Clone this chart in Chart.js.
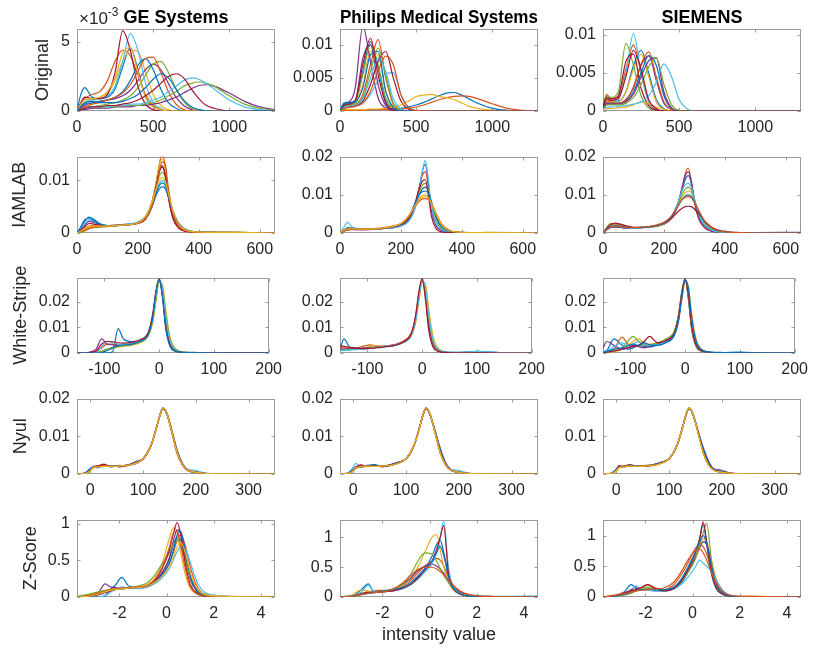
<!DOCTYPE html>
<html>
<head>
<meta charset="utf-8">
<title>Intensity histograms per vendor and normalization</title>
<script src="https://cdn.jsdelivr.net/npm/chart.js@4.4.1/dist/chart.umd.min.js"></script>
<style>
  html, body { margin: 0; padding: 0; background: #fff; overflow: hidden; }
  #figure { position: relative; width: 815px; height: 648px; overflow: hidden; }
  #figure canvas { position: absolute; }
</style>
</head>
<body>
<div id="figure"></div>
<script>
// ---------- data (densities of rows 1-4 are in units of 1e-3) ----------
const vendors = ['GE Systems', 'Philips Medical Systems', 'SIEMENS'];
const methods = ['Original', 'IAMLAB', 'White-Stripe', 'Nyul', 'Z-Score'];

const xOriginal = [0,25,50,100,150,200,250,300,350,400,450,500,550,600,650,700,750,800,850,900,1000,1100,1200,1300];
const xIamlab = [0,10,25,40,55,75,100,150,200,225,245,260,270,280,290,300,315,335,360,400,450,500,650];
const xWhiteStripe = [-150,-143,-130,-115,-105,-95,-85,-75,-65,-50,-35,-20,-12,-6,0,6,12,20,30,45,70,100,150,200];
const xNyul = [-25,-10,0,5,15,25,40,55,70,85,100,115,125,133,138,145,155,165,175,185,200,215,250,350];
const xZScore = [-3.8,-3.3,-2.9,-2.6,-2.4,-2.2,-1.9,-1.6,-1.2,-0.8,-0.5,-0.2,0.1,0.3,0.45,0.6,0.8,1.0,1.3,1.7,2.5,4.6];

const geOriginal = [
  [0,1.2,1.7,1.0,0.9,1.0,1.6,3.2,4.6,3.0,1.0,0.3,0.1,0,0,0,0,0,0,0,0,0,0,0],
  [0,0.5,0.9,1.2,1.4,2.2,3.6,4.4,4.0,2.6,1.2,0.4,0.1,0,0,0,0,0,0,0,0,0,0,0],
  [0,0.3,0.6,0.8,1.0,1.3,2.2,3.6,4.4,4.3,2.8,1.2,0.4,0.1,0,0,0,0,0,0,0,0,0,0],
  [0,0.2,0.4,0.6,0.7,0.8,0.9,1.1,1.5,2.2,3.0,3.4,3.0,2.0,1.0,0.4,0.1,0,0,0,0,0,0,0],
  [0,0.1,0.2,0.3,0.4,0.5,0.6,0.8,1.1,1.7,2.6,3.4,3.6,2.8,1.6,0.7,0.2,0.1,0,0,0,0,0,0],
  [0,0.4,0.8,0.8,0.9,1.1,1.8,3.6,5.6,4.4,2.0,0.6,0.2,0,0,0,0,0,0,0,0,0,0,0],
  [0,0.6,1.0,0.9,0.9,1.2,2.8,5.8,4.4,1.8,0.5,0.1,0,0,0,0,0,0,0,0,0,0,0,0],
  [0,0.3,0.5,0.6,0.7,0.8,1.0,1.4,2.2,3.3,3.8,3.0,1.6,0.6,0.2,0,0,0,0,0,0,0,0,0],
  [0,0.2,0.3,0.5,0.6,0.8,1.0,1.3,1.9,2.9,3.8,3.9,2.8,1.4,0.5,0.1,0,0,0,0,0,0,0,0],
  [0,0.5,0.8,0.9,1.0,1.4,2.4,4.2,4.6,2.8,1.0,0.3,0.1,0,0,0,0,0,0,0,0,0,0,0],
  [0,0.1,0.1,0.2,0.2,0.2,0.3,0.3,0.3,0.4,0.4,0.5,0.6,0.8,1.0,1.3,1.6,1.85,1.9,1.8,1.3,0.7,0.3,0.1],
  [0,0.1,0.2,0.3,0.3,0.3,0.3,0.4,0.4,0.4,0.5,0.6,0.8,1.1,1.4,1.8,2.0,2.1,2.0,1.8,1.1,0.5,0.2,0.05],
  [0,0.1,0.2,0.3,0.3,0.3,0.4,0.4,0.5,0.5,0.6,0.8,1.0,1.4,1.8,2.2,2.4,2.3,2.0,1.6,0.8,0.3,0.1,0],
  [0,0.1,0.2,0.3,0.3,0.4,0.4,0.5,0.6,0.8,1.1,1.5,2.0,2.5,2.7,2.4,1.6,0.9,0.4,0.2,0,0,0,0],
  [0,0.3,0.6,0.7,0.6,0.6,0.6,0.7,0.9,1.2,1.7,2.3,2.7,2.4,1.6,0.8,0.3,0.1,0,0,0,0,0,0]
];
const philipsOriginal = [
  [0,1.2,1.3,1.5,6.0,10.5,6.5,1.5,0.3,0,0,0,0,0,0,0,0,0,0,0,0,0,0,0],
  [0,0.6,0.8,1.0,2.5,7.0,10.8,5.0,1.0,0.2,0,0,0,0,0,0,0,0,0,0,0,0,0,0],
  [0,0.8,1.0,1.2,4.0,9.0,8.5,3.0,0.6,0.1,0,0,0,0,0,0,0,0,0,0,0,0,0,0],
  [0,1.0,1.2,3.5,12.8,7.5,2.0,0.4,0.1,0,0,0,0,0,0,0,0,0,0,0,0,0,0,0],
  [0,0.9,1.1,1.4,5.5,10.0,7.0,2.0,0.4,0,0,0,0,0,0,0,0,0,0,0,0,0,0,0],
  [0,0.5,0.6,0.8,1.2,2.5,4.5,5.6,5.8,2.5,0.6,0.1,0,0,0,0,0,0,0,0,0,0,0,0],
  [0,0.4,0.6,0.8,1.5,4.0,7.5,9.0,5.0,1.5,0.3,0,0,0,0,0,0,0,0,0,0,0,0,0],
  [0,0.2,0.2,0.2,0.2,0.2,0.2,0.3,0.3,0.4,0.6,0.9,1.3,1.8,2.3,2.7,2.8,2.4,1.8,1.2,0.4,0.1,0,0],
  [0,0.1,0.1,0.1,0.1,0.2,0.2,0.2,0.3,0.3,0.4,0.6,0.9,1.3,1.7,2.0,2.2,2.3,2.2,1.9,1.1,0.4,0.1,0],
  [0,0.2,0.2,0.2,0.2,0.3,0.3,0.4,0.6,0.9,1.5,2.2,2.4,2.5,2.2,2.0,1.7,1.2,0.7,0.4,0.1,0,0,0],
  [0,0.9,1.1,1.6,8.0,10.0,4.0,0.8,0.1,0,0,0,0,0,0,0,0,0,0,0,0,0,0,0],
  [0,0.7,0.9,1.1,2.0,6.0,9.5,5.5,1.2,0.2,0,0,0,0,0,0,0,0,0,0,0,0,0,0],
  [0,0.5,0.7,0.9,1.8,5.0,8.0,6.0,1.8,0.3,0,0,0,0,0,0,0,0,0,0,0,0,0,0],
  [0,0.8,1.0,1.5,7.0,11.0,5.5,1.2,0.2,0,0,0,0,0,0,0,0,0,0,0,0,0,0,0],
  [0,1.0,1.2,1.4,3.5,8.5,9.0,3.0,0.5,0,0,0,0,0,0,0,0,0,0,0,0,0,0,0],
  [0,0.3,0.5,0.7,1.2,3.0,6.0,8.3,7.0,2.5,0.5,0.1,0,0,0,0,0,0,0,0,0,0,0,0]
];
const siemensOriginal = [
  [0.5,1.5,1.3,1.3,2.5,6.0,8.0,5.0,1.5,0.3,0,0,0,0,0,0,0,0,0,0,0,0,0,0],
  [0.8,2.2,1.6,1.8,5.5,8.7,5.0,1.2,0.2,0,0,0,0,0,0,0,0,0,0,0,0,0,0,0],
  [0.4,1.5,1.2,1.2,2.5,5.5,7.5,4.5,1.2,0.2,0,0,0,0,0,0,0,0,0,0,0,0,0,0],
  [0.3,1.0,1.0,1.0,1.5,3.0,6.0,7.3,4.0,1.0,0.2,0,0,0,0,0,0,0,0,0,0,0,0,0],
  [1.0,2.0,1.8,2.5,8.9,6.0,2.0,0.4,0.1,0,0,0,0,0,0,0,0,0,0,0,0,0,0,0],
  [0.5,1.2,1.0,1.5,5.0,10.2,5.0,1.2,0.2,0,0,0,0,0,0,0,0,0,0,0,0,0,0,0],
  [0.6,1.8,1.6,2.0,6.5,7.5,3.0,0.7,0.1,0,0,0,0,0,0,0,0,0,0,0,0,0,0,0],
  [0.3,1.0,0.9,1.0,1.3,2.5,5.0,7.3,6.0,2.0,0.3,0,0,0,0,0,0,0,0,0,0,0,0,0],
  [0.3,1.2,1.1,1.0,1.4,3.2,6.2,7.8,4.5,1.2,0.2,0,0,0,0,0,0,0,0,0,0,0,0,0],
  [0.2,0.3,0.3,0.4,0.5,0.8,1.2,1.0,0.5,0.2,0,0,0,0,0,0,0,0,0,0,0,0,0,0],
  [0.3,0.9,0.9,0.9,1.2,2.2,4.5,6.6,7.0,2.5,0.4,0,0,0,0,0,0,0,0,0,0,0,0,0],
  [0.2,0.8,0.8,0.8,1.0,1.8,3.5,5.8,7.0,3.5,0.8,0.1,0,0,0,0,0,0,0,0,0,0,0,0],
  [0.2,0.5,0.5,0.6,0.7,0.9,1.2,2.0,3.8,6.2,4.5,1.5,0.3,0,0,0,0,0,0,0,0,0,0,0],
  [0.5,1.6,1.4,1.6,4.5,8.0,5.5,1.5,0.3,0,0,0,0,0,0,0,0,0,0,0,0,0,0,0]
];

const geIamlab = [
  [0,0.8,2.2,3.0,2.6,1.8,1.4,1.5,1.9,2.8,4.8,7.2,8.3,8.8,8.4,6.8,4.2,1.8,0.6,0.2,0.1,0.1,0],
  [0,0.3,0.9,1.3,1.4,1.4,1.4,1.6,2.0,3.0,5.5,9.5,13.0,15.0,12.5,7.0,2.8,0.9,0.3,0.1,0.1,0.1,0],
  [0,0.2,0.6,1.0,1.2,1.3,1.4,1.6,2.1,3.2,5.8,9.8,12.8,14.0,12.0,7.5,3.2,1.0,0.3,0.1,0.1,0.1,0],
  [0,0.5,1.5,2.2,2.0,1.6,1.4,1.6,2.0,3.0,5.5,9.0,11.8,12.8,11.0,7.0,3.0,1.0,0.3,0.1,0.1,0,0],
  [0,0.1,0.4,0.8,1.0,1.1,1.2,1.5,1.9,3.0,5.6,8.8,10.8,11.5,10.5,7.5,3.8,1.4,0.4,0.1,0.1,0.1,0],
  [0,0.6,1.8,2.5,2.2,1.7,1.4,1.6,2.1,3.1,5.2,7.8,9.4,10.0,9.4,7.2,4.0,1.6,0.5,0.2,0.1,0.1,0],
  [0,0.4,1.2,1.8,1.7,1.5,1.4,1.5,1.8,2.6,5.0,8.8,11.5,12.5,10.8,6.8,2.8,0.9,0.3,0.1,0,0,0],
  [0,0.9,2.5,2.8,2.3,1.7,1.4,1.5,1.9,2.9,5.0,7.6,9.0,9.5,9.0,7.0,4.0,1.6,0.5,0.2,0.1,0,0],
  [0,0.2,0.5,0.9,1.1,1.2,1.3,1.5,1.9,2.7,4.8,8.5,11.8,13.5,13.0,8.5,3.8,1.2,0.4,0.1,0.1,0.1,0],
  [0,0.3,0.8,1.2,1.3,1.3,1.3,1.5,1.9,3.1,5.6,8.4,10.0,10.5,9.8,7.5,4.2,1.6,0.5,0.2,0.1,0.1,0]
];
const philipsIamlab = [
  [0,0.6,1.4,1.3,1.1,1.0,1.0,1.3,2.2,4.0,7.2,10.0,11.5,12.0,11.0,8.0,4.0,1.4,0.4,0.1,0.1,0.1,0],
  [0,0.4,0.9,1.0,1.0,1.0,1.0,1.3,2.0,3.5,7.0,12.0,15.0,16.0,12.5,6.5,2.2,0.7,0.2,0.1,0.1,0,0],
  [0,0.7,1.2,1.2,1.1,1.0,1.0,1.4,2.4,4.3,7.0,9.0,9.8,10.0,9.6,8.0,5.0,2.0,0.6,0.2,0.1,0.1,0],
  [0,0.5,1.0,1.0,0.9,0.9,0.9,1.2,1.9,3.2,6.5,11.5,16.0,18.0,13.0,6.0,2.0,0.6,0.2,0.1,0.1,0,0],
  [0,0.5,1.0,1.0,1.0,1.0,1.0,1.3,2.1,3.8,7.2,10.5,12.5,13.0,11.5,7.5,3.2,1.0,0.3,0.1,0.1,0.2,0],
  [0,1.2,2.8,1.6,1.2,1.0,1.0,1.2,1.8,3.0,6.0,11.0,16.0,19.0,14.0,7.0,2.5,0.8,0.3,0.1,0.1,0.1,0],
  [0,0.4,0.8,0.9,0.9,0.9,1.0,1.3,2.2,3.8,7.5,11.5,13.5,14.0,10.0,4.5,1.2,0.3,0.1,0.1,0,0,0],
  [0,0.6,1.2,1.2,1.1,1.0,1.0,1.4,2.3,4.3,7.5,10.0,10.8,11.0,10.3,8.2,4.6,1.6,0.5,0.2,0.1,0.1,0],
  [0,0.5,1.0,1.0,1.0,1.0,1.1,1.5,2.5,4.2,6.8,8.3,8.9,9.0,8.8,7.8,5.2,2.2,0.7,0.2,0.1,0,0],
  [0,0.6,1.1,1.1,1.0,1.0,1.0,1.4,2.5,4.5,7.0,8.8,9.3,9.5,9.2,7.8,5.0,2.0,0.6,0.2,0.1,0.1,0]
];
const siemensIamlab = [
  [0,0.8,1.5,1.6,1.5,1.3,1.3,1.6,2.5,4.2,7.5,11.5,14.0,15.0,13.0,9.0,4.5,1.8,0.6,0.2,0.1,0,0],
  [0,1.0,2.0,2.4,2.2,1.8,1.4,1.5,2.3,3.8,7.0,12.0,15.5,17.0,13.5,8.0,3.5,1.2,0.4,0.1,0.1,0,0],
  [0,0.9,1.8,2.0,1.8,1.5,1.4,1.6,2.6,4.3,7.2,9.5,10.5,11.0,10.5,8.5,5.5,2.6,1.0,0.3,0.1,0.1,0],
  [0,0.7,1.4,1.6,1.5,1.3,1.3,1.5,2.4,4.0,7.5,12.0,15.0,16.0,13.5,8.5,3.8,1.4,0.4,0.1,0.1,0.1,0.2],
  [0,1.2,2.5,2.3,1.9,1.5,1.3,1.5,2.4,4.2,7.3,10.2,11.5,12.0,11.2,8.8,5.2,2.2,0.8,0.2,0.1,0,0],
  [0,0.9,1.8,1.9,1.7,1.4,1.3,1.6,2.6,4.4,7.8,11.2,12.6,13.0,12.0,8.8,4.8,2.0,0.7,0.2,0.1,0.1,0],
  [0,1.0,2.2,2.6,2.4,1.9,1.5,1.6,2.6,3.8,5.5,6.5,6.9,7.0,6.9,6.3,5.0,3.0,1.4,0.4,0.1,0,0],
  [0,0.9,1.7,1.9,1.8,1.5,1.4,1.6,2.6,4.2,6.8,8.8,9.7,10.0,9.6,8.2,5.6,2.8,1.1,0.3,0.1,0,0],
  [0,0.8,1.5,1.8,1.7,1.5,1.4,1.7,2.8,4.5,7.0,8.8,9.3,9.5,9.2,8.0,5.8,3.0,1.2,0.3,0.1,0,0]
];

const geWhiteStripe = [
  [0,0,0,0,0,0,0.5,9.5,5.5,4.5,5.0,7.0,13.0,22.0,28.5,24.0,13.0,4.0,1.0,0.3,0.2,0.1,0,0],
  [0.2,0.2,0.1,0.5,2.0,3.5,3.5,3.3,3.4,3.8,4.8,7.5,13.5,22.5,29.0,24.0,12.0,3.5,0.9,0.3,0.1,0.1,0,0],
  [0,0,0,0.1,0.5,1.2,1.8,2.3,2.6,3.0,4.0,6.5,11.5,20.0,27.5,27.0,17.0,6.0,1.6,0.4,0.1,0.1,0,0],
  [0,0,0.2,1.5,5.5,3.5,3.2,3.0,3.2,3.6,4.6,7.5,14.0,23.0,29.0,23.0,11.0,3.0,0.8,0.2,0.1,0,0,0],
  [0,0,0,0.2,0.8,1.5,2.2,2.6,2.9,3.3,4.2,6.8,12.0,20.5,28.0,26.0,16.0,5.5,1.5,0.4,0.1,0.1,0,0],
  [0,0,0,0.3,2.5,4.5,4.0,3.5,3.4,3.7,4.7,7.2,13.0,22.0,28.5,25.0,14.0,4.5,1.2,0.3,0.2,0.1,0,0],
  [0,0,0.1,0.8,3.5,4.6,4.4,4.0,3.9,4.2,5.2,8.0,15.0,24.0,29.0,22.0,10.5,3.0,0.8,0.2,0.1,0.1,0.1,0],
  [0,0,0,0,0.2,1.0,2.0,2.8,3.1,3.5,4.5,7.2,13.5,23.5,29.0,22.0,9.5,2.5,0.7,0.2,0.1,0,0,0]
];
const philipsWhiteStripe = [
  [1.0,5.5,1.8,1.6,1.7,2.0,2.2,2.4,2.6,3.0,4.2,7.0,13.0,22.0,29.0,24.0,13.0,4.0,1.0,0.3,0.3,0.6,0.1,0],
  [2.0,2.0,1.8,2.2,2.8,3.2,2.8,2.6,2.8,3.3,4.6,7.8,14.0,23.0,29.0,22.5,10.5,3.0,0.8,0.2,0.1,0.1,0,0],
  [1.2,1.2,1.4,1.6,2.0,2.6,3.0,2.7,2.6,3.0,4.0,6.5,11.5,20.0,27.5,27.0,17.5,6.5,1.8,0.4,0.1,0.1,0,0],
  [1.5,1.5,1.6,1.8,2.0,2.2,2.3,2.5,2.8,3.2,4.3,7.2,13.5,22.5,29.0,23.5,12.0,3.5,0.9,0.3,0.1,0.1,0,0],
  [1.0,1.1,1.3,1.5,1.8,2.0,2.2,2.4,2.7,3.1,4.2,7.0,12.8,21.5,28.5,25.0,14.0,4.5,1.2,0.3,0.1,0.1,0,0],
  [0.8,1.0,1.2,1.4,1.6,1.8,2.0,2.2,2.6,3.0,4.0,6.8,12.5,21.5,28.5,25.5,15.0,5.0,1.4,0.4,0.3,0.6,0.1,0],
  [2.8,2.6,2.2,1.8,1.7,1.8,2.0,2.2,2.5,3.0,4.2,7.5,14.5,24.0,29.0,21.0,9.0,2.2,0.6,0.2,0.1,0.1,0,0]
];
const siemensWhiteStripe = [
  [0.5,1.0,5.5,3.0,1.5,2.0,3.0,2.5,2.4,3.2,4.5,7.5,14.0,23.0,29.0,23.0,11.0,3.5,0.9,0.3,0.2,0.4,0,0],
  [0.3,0.5,1.5,6.2,3.5,2.5,2.8,3.5,3.0,3.4,4.8,7.8,14.5,23.5,29.0,22.0,10.0,3.0,0.8,0.2,0.1,0.1,0,0],
  [0.1,0.2,0.5,1.5,3.0,4.5,5.5,4.0,3.5,3.8,5.5,8.0,13.0,21.0,28.0,26.0,15.5,5.5,1.5,0.4,0.1,0.1,0,0],
  [2.0,4.5,3.0,1.5,2.0,3.0,2.5,2.0,2.5,3.5,5.0,8.0,15.0,24.0,29.0,21.0,9.0,2.5,0.7,0.2,0.1,0.1,0,0],
  [0.2,0.3,0.8,2.0,4.5,6.5,4.5,3.0,3.2,4.0,5.5,8.5,15.0,24.0,29.0,21.5,9.5,2.8,0.8,0.2,0.1,0.1,0,0],
  [0.5,0.8,2.5,4.0,3.0,3.5,4.5,3.5,3.0,3.3,4.4,7.0,13.0,22.0,28.5,24.0,12.5,4.0,1.1,0.3,0.2,0.3,0,0],
  [0.2,0.3,0.8,1.5,2.0,2.5,3.0,4.5,6.5,4.0,4.8,7.5,14.0,23.0,29.0,22.5,10.5,3.2,0.9,0.3,0.1,0.2,0,0],
  [0.3,0.6,1.5,2.0,2.8,3.5,3.0,4.0,3.2,3.0,4.0,6.8,12.5,21.5,28.5,25.5,14.0,4.8,1.3,0.4,0.2,0.1,0,0]
];

const geNyul = [
  [0,0.2,1.2,1.8,1.7,2.3,1.9,2.2,2.2,3.2,4.0,7.4,11.9,16.0,17.4,16.0,11.2,6.0,2.6,1.0,0.6,0.2,0.05,0],
  [0,0.1,1.0,1.6,2.0,2.6,2.0,2.0,2.4,2.6,4.1,7.5,12.0,16.0,17.5,16.0,10.8,5.2,2.3,0.9,0.5,0.2,0.05,0],
  [0,0.1,0.8,1.7,1.9,2.0,2.0,2.1,2.3,2.8,4.0,7.5,12.0,16.0,17.5,16.2,11.0,5.5,2.4,1.0,0.5,0.2,0.05,0],
  [0,0.2,0.9,2.0,1.8,2.2,2.2,1.9,2.3,3.0,3.9,7.6,12.1,16.1,17.4,16.1,11.3,6.2,2.8,1.1,0.6,0.2,0.05,0],
  [0,0.1,0.7,1.8,2.1,2.1,1.9,2.3,2.2,2.9,4.0,7.4,11.9,15.9,17.4,16.3,11.5,6.0,2.5,1.0,0.4,0.2,0.05,0],
  [0,0.2,1.5,1.9,1.8,2.0,2.1,2.0,2.4,2.7,4.0,7.5,12.0,16.0,17.5,16.0,11.0,5.8,2.6,1.1,1.0,0.3,0.05,0],
  [0,0.1,0.9,1.8,2.2,2.5,2.0,2.1,2.3,3.1,4.1,7.5,12.0,16.0,17.4,16.1,11.1,5.6,2.4,1.0,0.5,0.2,0.05,0],
  [0,0.3,1.4,1.7,1.9,2.1,2.0,2.2,2.3,3.0,4.0,7.5,12.0,16.0,17.4,16.0,11.0,5.7,2.5,1.0,0.5,0.2,0.05,0],
  [0,0.1,0.9,1.7,1.9,2.2,2.0,2.1,2.3,2.9,4.0,7.5,12.0,16.0,17.5,16.1,11.0,5.4,2.4,0.9,0.5,0.2,0.05,0],
  [0,0.1,0.8,1.6,1.9,2.0,2.0,2.1,2.3,2.8,4.0,7.5,12.0,16.0,17.5,16.1,11.0,5.5,2.4,1.0,0.5,0.2,0.05,0]
];
const philipsNyul = [
  [0,0.2,1.0,1.8,2.0,2.0,2.5,2.0,2.2,3.0,4.0,7.5,12.0,16.0,17.4,16.0,11.5,6.5,2.8,1.1,0.6,0.2,0.05,0],
  [0,0.1,0.9,1.6,1.8,2.3,2.2,2.1,2.4,2.9,4.0,7.5,12.0,16.0,17.5,16.0,11.0,5.6,2.4,1.0,0.5,0.2,0.05,0],
  [0,0.1,0.8,1.5,1.9,2.0,2.1,2.1,2.3,2.8,4.0,7.5,12.0,16.0,17.5,16.1,11.0,5.5,2.4,1.0,0.5,0.2,0.05,0],
  [0,0.2,1.1,1.9,1.9,2.1,2.2,2.0,2.5,3.1,4.0,7.6,12.1,16.1,17.4,16.0,11.4,6.8,3.0,1.2,0.6,0.2,0.05,0],
  [0,0.1,0.8,1.7,2.2,2.0,2.1,2.2,2.3,2.9,4.0,7.4,11.9,15.9,17.4,16.2,11.6,6.4,2.6,1.0,0.5,0.2,0.05,0],
  [0,0.3,1.8,2.8,1.9,2.0,2.0,2.1,2.3,2.8,4.0,7.5,12.0,16.0,17.5,16.0,11.0,5.6,2.5,1.1,1.0,0.3,0.05,0],
  [0,0.1,1.0,1.8,2.4,2.1,2.3,1.9,2.4,3.0,4.1,7.5,12.0,16.0,17.4,16.0,11.2,6.0,2.6,1.0,0.5,0.2,0.05,0],
  [0,0.2,1.2,1.7,1.8,2.2,2.4,2.0,2.3,3.1,4.0,7.5,12.0,16.0,17.4,16.0,11.3,6.2,2.7,1.0,0.5,0.2,0.05,0],
  [0,0.1,0.9,1.6,2.0,2.1,2.0,2.2,2.3,2.9,4.0,7.5,12.0,16.0,17.5,16.1,11.0,5.5,2.4,1.0,0.5,0.2,0.05,0],
  [0,0.1,0.8,1.6,1.9,2.1,2.0,2.1,2.3,2.8,4.0,7.5,12.0,16.0,17.5,16.1,11.0,5.5,2.4,1.0,0.5,0.2,0.05,0]
];
const siemensNyul = [
  [0,0.2,1.1,1.8,2.0,2.2,2.1,2.2,2.4,3.0,4.0,7.5,12.0,16.0,17.4,16.0,11.3,6.4,3.0,1.2,0.6,0.2,0.05,0],
  [0,0.1,0.9,1.7,2.1,2.4,2.1,2.2,2.4,2.9,4.0,7.5,12.0,16.0,17.5,16.0,11.0,5.6,2.4,1.0,0.5,0.2,0.05,0],
  [0,0.1,0.8,1.6,1.9,2.1,2.1,2.1,2.3,2.8,4.0,7.5,12.0,16.0,17.5,16.1,11.0,5.5,2.4,1.0,0.5,0.2,0.05,0],
  [0,0.2,1.0,1.9,2.0,2.3,2.2,2.1,2.5,3.1,4.0,7.6,12.1,16.1,17.4,16.0,11.4,7.0,3.4,1.4,1.0,0.3,0.05,0],
  [0,0.1,0.7,1.7,2.1,2.0,2.1,2.3,2.3,2.9,4.0,7.4,11.9,15.9,17.4,16.2,11.5,6.2,2.6,1.0,0.5,0.2,0.05,0],
  [0,0.2,1.3,2.0,1.9,2.1,2.0,2.1,2.4,2.8,4.0,7.5,12.0,16.0,17.5,16.0,11.1,5.8,2.6,1.1,0.7,0.2,0.05,0],
  [0,0.1,1.1,2.2,2.0,2.4,2.1,2.0,2.4,3.0,4.1,7.5,12.0,16.0,17.4,16.0,11.2,6.2,2.8,1.1,0.6,0.2,0.05,0],
  [0,0.2,1.2,1.8,1.9,2.3,2.1,2.2,2.3,3.1,4.0,7.5,12.0,16.0,17.4,16.0,11.3,6.6,3.1,1.2,0.7,0.2,0.05,0],
  [0,0.1,0.9,1.7,2.0,2.1,2.0,2.2,2.3,2.9,4.0,7.5,12.0,16.0,17.5,16.1,11.0,5.5,2.4,1.0,0.5,0.2,0.05,0],
  [0,0.1,0.8,1.6,1.9,2.1,2.0,2.1,2.3,2.8,4.0,7.5,12.0,16.0,17.5,16.1,11.0,5.5,2.4,1.0,0.5,0.2,0.05,0]
];

const geZScore = [
  [0,0,0,0.02,0.1,0.15,0.27,0.15,0.13,0.14,0.2,0.32,0.5,0.72,0.82,0.78,0.55,0.28,0.09,0.02,0,0],
  [0,0.02,0.05,0.08,0.09,0.1,0.11,0.12,0.13,0.15,0.2,0.3,0.45,0.62,0.78,0.85,0.7,0.42,0.14,0.03,0.01,0],
  [0,0.02,0.05,0.08,0.1,0.11,0.12,0.13,0.14,0.17,0.26,0.45,0.78,0.95,0.88,0.6,0.3,0.12,0.04,0.01,0,0],
  [0,0.02,0.06,0.18,0.14,0.13,0.12,0.12,0.12,0.14,0.2,0.33,0.52,0.78,0.92,0.88,0.55,0.25,0.07,0.01,0,0],
  [0.01,0.04,0.07,0.09,0.1,0.11,0.12,0.13,0.15,0.2,0.3,0.45,0.6,0.72,0.78,0.72,0.5,0.28,0.1,0.02,0.01,0],
  [0,0,0,0.02,0.06,0.1,0.14,0.12,0.12,0.14,0.18,0.26,0.38,0.52,0.62,0.68,0.66,0.48,0.2,0.05,0.01,0],
  [0,0.01,0.03,0.06,0.08,0.1,0.12,0.12,0.13,0.15,0.22,0.38,0.62,0.88,1.02,0.85,0.45,0.18,0.05,0.01,0,0],
  [0,0.01,0.04,0.07,0.09,0.1,0.11,0.12,0.13,0.15,0.2,0.3,0.45,0.65,0.85,0.9,0.62,0.3,0.08,0.01,0,0],
  [0,0.02,0.05,0.08,0.1,0.11,0.12,0.13,0.14,0.16,0.24,0.4,0.66,0.88,0.9,0.7,0.38,0.15,0.04,0.01,0,0],
  [0,0.01,0.04,0.07,0.09,0.1,0.11,0.12,0.13,0.15,0.2,0.28,0.4,0.55,0.68,0.75,0.6,0.35,0.12,0.03,0.01,0]
];
const philipsZScore = [
  [0,0.02,0.12,0.22,0.1,0.08,0.09,0.1,0.14,0.22,0.33,0.48,0.68,0.88,0.95,0.75,0.38,0.15,0.05,0.01,0,0],
  [0,0.02,0.06,0.09,0.1,0.11,0.11,0.12,0.18,0.28,0.4,0.52,0.6,0.65,0.62,0.52,0.34,0.2,0.09,0.03,0.01,0],
  [0,0.03,0.12,0.1,0.08,0.09,0.1,0.12,0.18,0.3,0.5,0.75,1.0,1.05,0.8,0.5,0.25,0.12,0.04,0.01,0,0],
  [0,0.02,0.05,0.07,0.08,0.09,0.1,0.13,0.2,0.32,0.44,0.52,0.55,0.52,0.47,0.4,0.28,0.17,0.08,0.03,0.01,0],
  [0,0.02,0.05,0.07,0.08,0.09,0.1,0.12,0.2,0.38,0.6,0.74,0.72,0.6,0.48,0.36,0.24,0.14,0.06,0.02,0,0],
  [0,0.02,0.08,0.2,0.1,0.08,0.09,0.1,0.13,0.2,0.3,0.42,0.55,0.75,1.0,1.28,0.5,0.18,0.06,0.02,0.01,0.02],
  [0,0.01,0.05,0.08,0.08,0.08,0.09,0.1,0.14,0.22,0.32,0.45,0.6,0.8,1.0,1.2,0.4,0.15,0.05,0.01,0,0],
  [0,0.01,0.04,0.06,0.07,0.08,0.1,0.12,0.16,0.25,0.35,0.47,0.6,0.75,0.85,0.7,0.35,0.15,0.05,0.01,0,0],
  [0,0.01,0.04,0.06,0.07,0.08,0.09,0.12,0.22,0.36,0.46,0.5,0.5,0.47,0.43,0.38,0.3,0.2,0.1,0.04,0.01,0]
];
const siemensZScore = [
  [0,0.02,0.08,0.2,0.14,0.12,0.12,0.1,0.1,0.13,0.22,0.4,0.65,0.95,1.18,0.85,0.38,0.14,0.04,0.01,0,0],
  [0,0.03,0.07,0.1,0.12,0.15,0.2,0.15,0.12,0.2,0.35,0.55,0.78,0.85,0.82,0.7,0.45,0.22,0.07,0.02,0.01,0],
  [0,0.02,0.05,0.08,0.1,0.12,0.14,0.12,0.11,0.15,0.26,0.44,0.68,0.85,0.95,0.9,0.6,0.3,0.1,0.02,0,0],
  [0,0.02,0.06,0.12,0.16,0.13,0.12,0.11,0.11,0.15,0.25,0.42,0.62,0.8,0.9,0.85,0.55,0.25,0.07,0.01,0,0],
  [0,0.01,0.03,0.06,0.1,0.14,0.16,0.12,0.1,0.14,0.24,0.4,0.6,0.85,1.05,1.2,0.6,0.2,0.05,0.01,0,0],
  [0,0.01,0.04,0.08,0.18,0.12,0.11,0.1,0.1,0.13,0.2,0.32,0.48,0.6,0.55,0.5,0.42,0.28,0.1,0.02,0,0],
  [0,0.02,0.05,0.1,0.12,0.15,0.2,0.14,0.1,0.14,0.25,0.45,0.7,0.95,1.22,0.9,0.4,0.15,0.04,0.01,0,0],
  [0,0.01,0.04,0.08,0.1,0.12,0.13,0.12,0.12,0.16,0.28,0.48,0.72,0.9,1.0,0.88,0.5,0.2,0.06,0.01,0,0],
  [0,0.02,0.05,0.08,0.1,0.11,0.12,0.13,0.15,0.24,0.4,0.6,0.75,0.78,0.72,0.6,0.4,0.22,0.08,0.02,0.01,0]
];

// axis limits and tick values
const xRanges = [[0, 1300], [0, 650], [-150, 200], [-25, 350], [-3.8, 4.6]];
const xTickValues = [[0, 500, 1000], [0, 200, 400, 600], [-100, 0, 100, 200], [0, 100, 200, 300], [-2, 0, 2, 4]];
const yMaxes = [[5.94, 12.4, 10.8], [14.5, 20, 20], [29.5, 29.5, 29.5], [20, 20, 20], [1.06, 1.3, 1.26]];
const yTickValues = [
  [[0, 5], [0, 5, 10], [0, 5, 10]],
  [[0, 10], [0, 10, 20], [0, 10, 20]],
  [[0, 10, 20], [0, 10, 20], [0, 10, 20]],
  [[0, 10, 20], [0, 10, 20], [0, 10, 20]],
  [[0, 0.5, 1], [0, 0.5, 1], [0, 0.5, 1]]
];

const xByRow = [xOriginal, xIamlab, xWhiteStripe, xNyul, xZScore];
const curvesByPanel = [
  [geOriginal, philipsOriginal, siemensOriginal],
  [geIamlab, philipsIamlab, siemensIamlab],
  [geWhiteStripe, philipsWhiteStripe, siemensWhiteStripe],
  [geNyul, philipsNyul, siemensNyul],
  [geZScore, philipsZScore, siemensZScore]
];

// ---------- layout / style ----------
const palette = ['#0072BD', '#D95319', '#EDB120', '#7E2F8E', '#77AC30', '#4DBEEE', '#A2142F'];
const fontFamily = '"Liberation Sans", Arial, Helvetica, sans-serif';
const textColor = '#262626';
const colLeft = [77, 340, 603];
const rowTop = [29, 152, 273, 394, 515];
const rowHeight = [82, 81, 80, 80, 82];
const plotWidth = 198;
const axisGap = 77;
const rightPad = 14;
const rowLabelPad = [32, 9, 10, 10, 20];

Chart.defaults.font.family = fontFamily;

// matlab style box with inward ticks, drawn under the curves
const boxPlugin = {
  id: 'matlabBox',
  beforeDatasetsDraw(chart) {
    const { ctx, chartArea: a, scales } = chart;
    const L = Math.round(a.left) + 0.5, R = Math.round(a.right) - 0.5;
    const T = Math.round(a.top) + 0.5, B = Math.round(a.bottom) - 0.5;
    ctx.save();
    ctx.strokeStyle = '#9a9a9a';
    ctx.lineWidth = 1;
    ctx.strokeRect(L, T, R - L, B - T);
    ctx.beginPath();
    scales.x.ticks.forEach(t => {
      const px = Math.round(scales.x.getPixelForValue(t.value)) + 0.5;
      ctx.moveTo(px, B); ctx.lineTo(px, B - 3);
      ctx.moveTo(px, T); ctx.lineTo(px, T + 3);
    });
    scales.y.ticks.forEach(t => {
      const py = Math.round(scales.y.getPixelForValue(t.value)) + 0.5;
      ctx.moveTo(L, py); ctx.lineTo(L + 3, py);
      ctx.moveTo(R, py); ctx.lineTo(R - 3, py);
    });
    ctx.stroke();
    ctx.restore();
  }
};

// the "x10^-3" multiplier of the first panel
const exponentPlugin = {
  id: 'exponent',
  afterDraw(chart) {
    const { ctx, chartArea: a } = chart;
    ctx.save();
    ctx.fillStyle = textColor;
    ctx.textBaseline = 'alphabetic';
    ctx.font = '17px ' + fontFamily;
    ctx.fillText('\u00d710', a.left + 2, 24);
    const w = ctx.measureText('\u00d710').width;
    ctx.font = '12px ' + fontFamily;
    ctx.fillText('-3', a.left + 2 + w, 16);
    ctx.restore();
  }
};

const fig = document.getElementById('figure');

methods.forEach((method, r) => {
  vendors.forEach((vendor, c) => {
    const xs = xByRow[r];
    const curves = curvesByPanel[r][c];
    const hasXTitle = r === 4 && c === 1;
    const xAxisHeight = hasXTitle ? 50 : 30;
    const topPad = r === 0 ? 0 : 12;
    const canvasTop = r === 0 ? 0 : rowTop[r] - topPad;
    const canvasLeft = colLeft[c] - axisGap;
    const width = axisGap + plotWidth + rightPad;
    const height = rowTop[r] + rowHeight[r] + xAxisHeight - canvasTop;

    const canvas = document.createElement('canvas');
    canvas.width = width;
    canvas.height = height;
    canvas.style.left = canvasLeft + 'px';
    canvas.style.top = canvasTop + 'px';
    fig.appendChild(canvas);

    const yLabel = v => {
      if (r === 4 || (r === 0 && c === 0)) return String(v);
      return String(v / 1000);
    };

    new Chart(canvas, {
      type: 'line',
      data: {
        // later curves are drawn on top, as in the plotting order of the source figure
        datasets: curves.map((ys, i) => ({
          data: ys.map((y, k) => ({ x: xs[k], y: y })),
          order: curves.length - i,
          borderColor: palette[i % palette.length],
          borderWidth: 1.2,
          pointRadius: 0,
          fill: false,
          cubicInterpolationMode: 'monotone'
        }))
      },
      options: {
        responsive: false,
        animation: false,
        events: [],
        layout: { padding: { left: 0, right: rightPad, top: topPad, bottom: 0 } },
        plugins: {
          legend: { display: false },
          tooltip: { enabled: false },
          title: {
            display: r === 0,
            fullSize: false,
            text: vendor,
            color: '#000',
            font: { size: 18, weight: 'bold', lineHeight: 1.2 },
            padding: { top: 7, bottom: 0.4 }
          }
        },
        scales: {
          x: {
            type: 'linear',
            min: xRanges[r][0],
            max: xRanges[r][1],
            grid: { display: false, drawTicks: false },
            border: { display: false },
            afterBuildTicks: s => { s.ticks = xTickValues[r].map(v => ({ value: v })); },
            afterFit: s => { s.height = xAxisHeight; },
            ticks: {
              autoSkip: false, maxRotation: 0, padding: 7, color: textColor,
              font: { size: 16 },
              callback: v => String(v)
            },
            title: {
              display: hasXTitle, text: 'intensity value', color: textColor,
              font: { size: 18, lineHeight: 1.2 }, padding: { top: 0, bottom: 1 }
            }
          },
          y: {
            min: 0,
            max: yMaxes[r][c],
            grid: { display: false, drawTicks: false },
            border: { display: false },
            afterBuildTicks: s => { s.ticks = yTickValues[r][c].map(v => ({ value: v })); },
            afterFit: s => { s.width = axisGap; },
            ticks: {
              autoSkip: false, padding: 7, color: textColor,
              font: { size: 16 },
              callback: v => yLabel(v)
            },
            title: {
              display: c === 0, text: method, color: textColor,
              font: { size: 18, lineHeight: 1.2 }, padding: { top: rowLabelPad[r], bottom: 0 }
            }
          }
        }
      },
      plugins: r === 0 && c === 0 ? [boxPlugin, exponentPlugin] : [boxPlugin]
    });
  });
});
</script>
</body>
</html>
